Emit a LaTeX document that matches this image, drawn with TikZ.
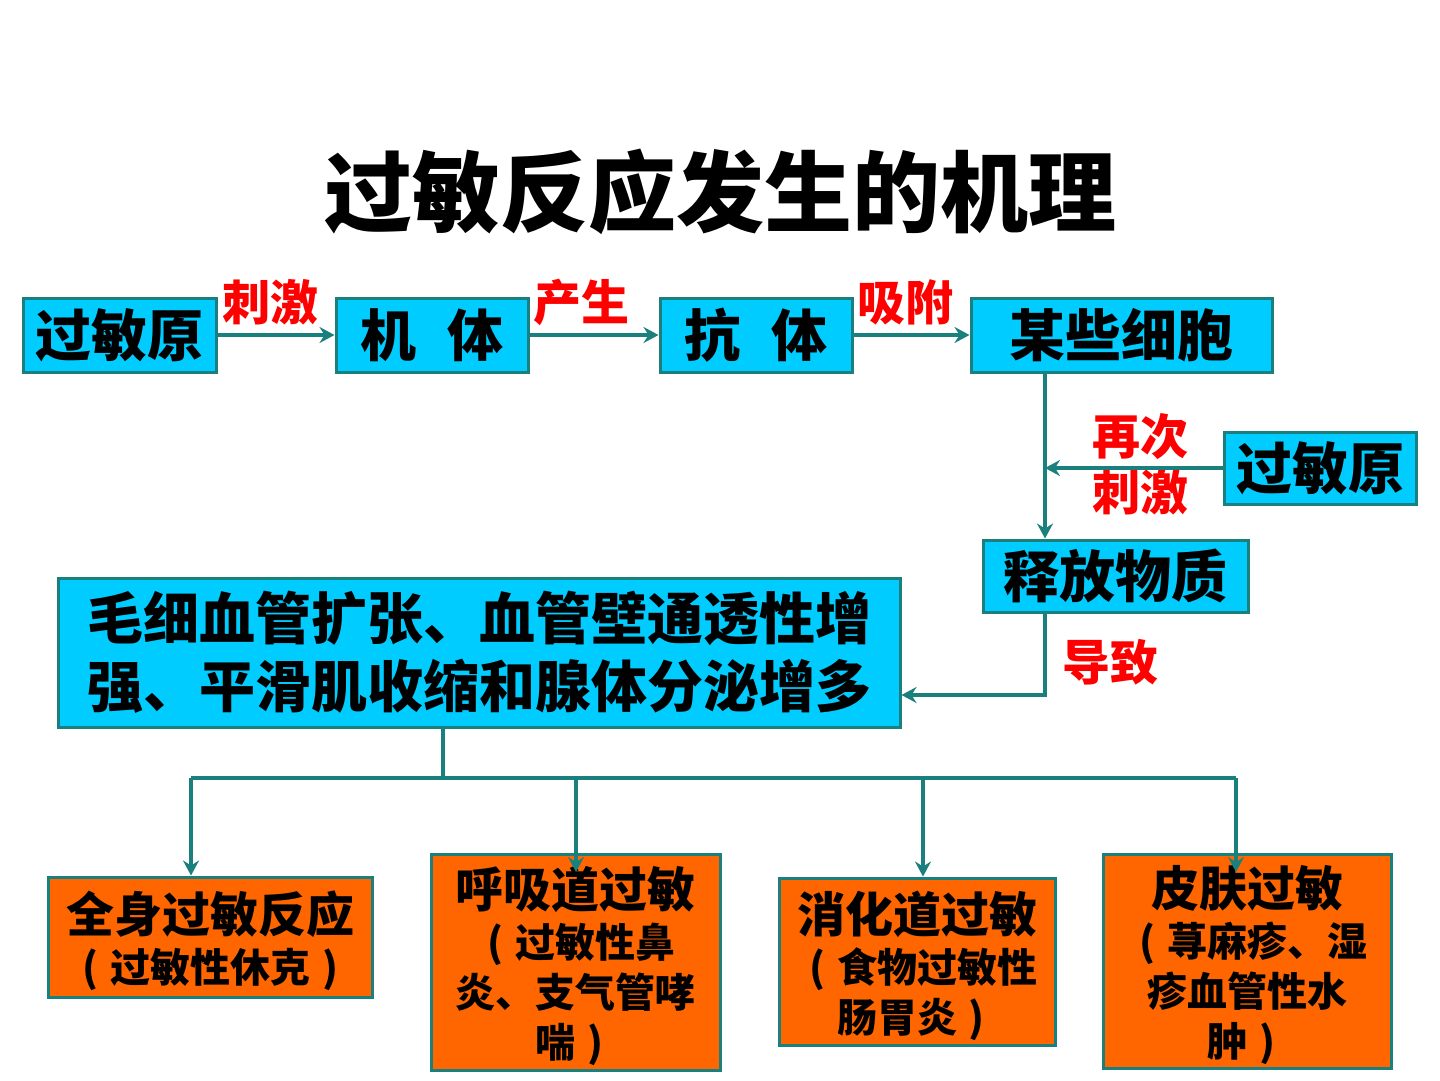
\documentclass[tikz,border=0pt]{standalone}
\usepackage{fontspec}
\setmainfont{Noto Sans CJK SC}
\usetikzlibrary{arrows.meta}
\definecolor{tealc}{RGB}{26,128,126}
\definecolor{cyanc}{RGB}{0,204,255}
\definecolor{orangec}{RGB}{255,102,0}
\definecolor{redc}{RGB}{255,0,0}
\newcommand\lpar{\makebox[1em]{(}}
\newcommand\rpar{\makebox[1em]{)}}
\begin{document}
\begin{tikzpicture}[x=1pt,y=-1pt,
  cbox/.style={draw=tealc, line width=3pt, fill=cyanc, inner sep=0pt, text=black,
    font=\bfseries\fontsize{56}{68}\selectfont},
  obox/.style={draw=tealc, line width=3pt, fill=orangec, inner sep=0pt, text=black, align=center,
    font=\bfseries\fontsize{40}{50}\selectfont},
  lbl/.style={text=redc, inner sep=0pt, font=\bfseries\fontsize{48}{50}\selectfont},
  conn/.style={draw=tealc, line width=4pt},
  arr/.style={conn, -{Stealth[length=15pt,width=16pt,inset=5pt]}}
]
\useasboundingbox (0,0) rectangle (1440,1080);
\fill[white] (0,0) rectangle (1440,1080);

\node[inner sep=0pt, font=\bfseries\fontsize{88}{92}\selectfont] (title) at (720,192) {过敏反应发生的机理};

\node[cbox, minimum width=193pt, minimum height=74pt] (al1) at (119.5,335) {过敏原};
\node[cbox, minimum width=192pt, minimum height=74pt] (body) at (432,335) {机\hspace{0.55em}体};
\node[cbox, minimum width=192pt, minimum height=74pt] (ab) at (756,335) {抗\hspace{0.55em}体};
\node[cbox, minimum width=301pt, minimum height=74pt] (cells) at (1121.5,335) {某些细胞};
\node[cbox, minimum width=192pt, minimum height=72pt] (al2) at (1320,468) {过敏原};
\node[cbox, minimum width=265pt, minimum height=72pt] (rel) at (1115.5,576) {释放物质};
\node[cbox, minimum width=842pt, minimum height=149pt, align=center] (big) at (479,652.5)
  {毛细血管扩张、血管壁通透性增\\强、平滑肌收缩和腺体分泌增多};

\node[lbl] (l1) at (270,302) {刺激};
\node[lbl] (l2) at (581,302) {产生};
\node[lbl] (l3) at (905,302) {吸附};
\node[lbl] (l4) at (1140,437) {再次};
\node[lbl] (l5) at (1140,492) {刺激};
\node[lbl] (l6) at (1110,662) {导致};

\node[obox, minimum width=324pt, minimum height=120pt] (A) at (210,937)
  {\rule{0pt}{50pt}{\fontsize{48}{52}\selectfont 全身过敏反应}\\\lpar 过敏性休克\rpar};
\node[obox, minimum width=289pt, minimum height=216pt] (B) at (575.5,962)
  {\rule{0pt}{50pt}{\fontsize{48}{52}\selectfont 呼吸道过敏}\\\lpar 过敏性鼻\\炎、支气管哮\\喘\rpar};
\node[obox, minimum width=276pt, minimum height=167pt] (C) at (917,961.5)
  {\rule{0pt}{50pt}{\fontsize{48}{52}\selectfont 消化道过敏}\\\lpar 食物过敏性\\肠胃炎\rpar};
\node[obox, minimum width=288pt, minimum height=214pt] (D) at (1247,961)
  {\rule{0pt}{50pt}{\fontsize{48}{52}\selectfont 皮肤过敏}\\\lpar 荨麻疹、湿\\疹血管性水\\肿\rpar};

\coordinate (vx) at (1045,0);
\coordinate (hy) at (0,695);
\coordinate (bx) at (443,0);
\coordinate (bus) at (0,778);
\coordinate (xa) at (191,0);
\coordinate (xb) at (576,0);
\coordinate (xc) at (923,0);
\coordinate (xd) at (1236,0);
\coordinate (endB) at (576,872);
\coordinate (endD) at (1236,872);

\draw[arr] (al1) -- (body);
\draw[arr] (body) -- (ab);
\draw[arr] (ab) -- (cells);
\draw[arr] (cells.south -| vx) -- (rel.north -| vx);
\draw[arr] (al2.west) -- (al2.west -| vx);
\draw[arr] (rel.south -| vx) |- (big.east |- hy);
\draw[conn] (big.south -| bx) -- (bus -| bx);
\draw[conn] (bus -| xa) -- (bus -| xd);
\draw[arr] (bus -| xa) -- (A.north -| xa);
\draw[arr] (bus -| xb) -- (endB);
\draw[arr] (bus -| xc) -- (C.north -| xc);
\draw[arr] (bus -| xd) -- (endD);
\end{tikzpicture}
\end{document}
